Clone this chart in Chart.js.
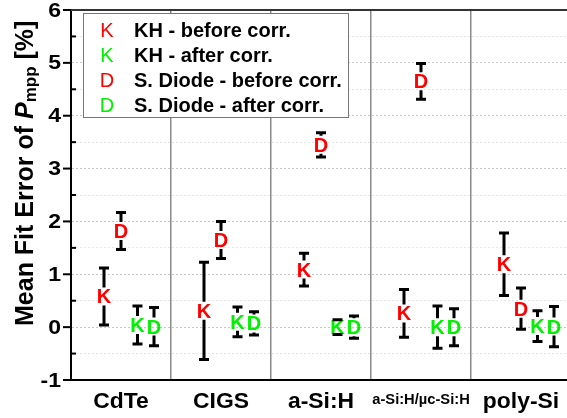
<!DOCTYPE html>
<html>
<head>
<meta charset="utf-8">
<script src="https://cdn.jsdelivr.net/npm/chart.js@4"></script>
<style>
  html, body { margin: 0; padding: 0; background: #fff; }
  #wrap { width: 567px; height: 418px; }
</style>
</head>
<body>
<div id="wrap"><canvas id="fitChart"></canvas></div>
<script>
// categories and series
const categories = ['CdTe', 'CIGS', 'a-Si:H', 'a-Si:H/µc-Si:H', 'poly-Si'];
const yTicks = [-1, 0, 1, 2, 3, 4, 5, 6];

const khBefore = [0.58, 0.31, 1.09, 0.26, 1.19];
const khBeforeErr = [0.54, 0.92, 0.31, 0.45, 0.59];
const sdBefore = [1.82, 1.65, 3.45, 4.65, 0.35];
const sdBeforeErr = [0.35, 0.35, 0.23, 0.34, 0.39];
const khAfter = [0.04, 0.10, 0.0, 0.0, 0.02];
const khAfterErr = [0.36, 0.28, 0.14, 0.40, 0.29];
const sdAfter = [0.01, 0.07, 0.0, 0.0, 0.01];
const sdAfterErr = [0.36, 0.22, 0.21, 0.35, 0.38];

const RED = '#ff0000';
const GREEN = '#00f000';
const FONT = "'Liberation Sans', Arial, sans-serif";

function series(label, letter, color, offset, vals, errs) {
  return {
    label: label,
    letter: letter,
    errors: errs,
    data: vals.map((v, i) => ({ x: i + offset, y: v })),
    pointRadius: 0,
    pointHoverRadius: 0,
    borderColor: color,
    backgroundColor: color,
    showLine: false
  };
}

const datasets = [
  series('KH - before corr.', 'K', RED, 0.33, khBefore, khBeforeErr),
  series('S. Diode - before corr.', 'D', RED, 0.50, sdBefore, sdBeforeErr),
  series('KH - after corr.', 'K', GREEN, 0.665, khAfter, khAfterErr),
  series('S. Diode - after corr.', 'D', GREEN, 0.83, sdAfter, sdAfterErr)
];
const legendOrder = [0, 2, 1, 3];

// stretched text, the original labels are a bit wider than Arial
function wideText(ctx, txt, x, y, sx) {
  ctx.save();
  ctx.translate(x, y);
  ctx.scale(sx, 1);
  ctx.fillText(txt, 0, 0);
  ctx.restore();
}

// error bars, letters, texts, legend
const decor = {
  id: 'decor',
  afterDatasetsDraw(chart) {
    const ctx = chart.ctx;
    const ys = chart.scales.y;
    chart.data.datasets.forEach((ds, di) => {
      const meta = chart.getDatasetMeta(di);
      meta.data.forEach((pt, i) => {
        const x = pt.x, y = pt.y;
        ctx.save();
        ctx.fillStyle = ds.borderColor;
        ctx.font = 'bold 20px ' + FONT;
        ctx.textAlign = 'center';
        ctx.textBaseline = 'alphabetic';
        ctx.fillText(ds.letter, x, y + 7);
        ctx.restore();

        const v = ds.data[i].y, e = ds.errors[i];
        const top = ys.getPixelForValue(v + e);
        const bot = ys.getPixelForValue(v - e);
        const gap = 9;
        ctx.save();
        ctx.strokeStyle = '#000';
        ctx.lineWidth = 3;
        ctx.beginPath();
        if (y - top > gap) { ctx.moveTo(x, top); ctx.lineTo(x, y - gap); }
        if (bot - y > gap) { ctx.moveTo(x, y + gap); ctx.lineTo(x, bot); }
        ctx.moveTo(x - 5, top); ctx.lineTo(x + 5, top);
        ctx.moveTo(x - 5, bot); ctx.lineTo(x + 5, bot);
        ctx.stroke();
        ctx.restore();
      });
    });
  },
  afterDraw(chart) {
    const ctx = chart.ctx;
    const a = chart.chartArea;
    const xs = chart.scales.x, ys = chart.scales.y;

    // top frame
    ctx.save();
    ctx.strokeStyle = '#333';
    ctx.lineWidth = 2;
    ctx.beginPath();
    ctx.moveTo(a.left - 1, a.top);
    ctx.lineTo(a.right, a.top);
    ctx.stroke();

    // y ticks
    ctx.strokeStyle = '#000';
    ctx.lineWidth = 2;
    for (let v = -1; v <= 6; v += 0.5) {
      const py = ys.getPixelForValue(v);
      ctx.beginPath();
      if (Number.isInteger(v)) { ctx.moveTo(a.left - 8, py); ctx.lineTo(a.left, py); }
      else { ctx.moveTo(a.left, py); ctx.lineTo(a.left + 5, py); }
      ctx.stroke();
    }

    // y tick labels
    ctx.fillStyle = '#000';
    ctx.font = 'bold 20px ' + FONT;
    ctx.textAlign = 'right';
    ctx.textBaseline = 'middle';
    yTicks.forEach(t => wideText(ctx, String(t), a.left - 10, ys.getPixelForValue(t) + 1, 1.15));

    // category labels
    ctx.textAlign = 'center';
    ctx.textBaseline = 'alphabetic';
    categories.forEach((c, i) => {
      const small = c.length > 8;
      ctx.font = 'bold ' + (small ? 14 : 22) + 'px ' + FONT;
      wideText(ctx, c, xs.getPixelForValue(i + 0.5), small ? 404 : 408, small ? 1.05 : 1.04);
    });

    // y title
    ctx.translate(33, 326);
    ctx.rotate(-Math.PI / 2);
    ctx.textAlign = 'left';
    let cx = 0;
    const part = (txt, font, dy) => {
      ctx.font = font;
      ctx.fillText(txt, cx, dy);
      cx += ctx.measureText(txt).width;
    };
    part('Mean Fit Error of ', 'bold 25px ' + FONT, 0);
    part('P', 'italic bold 25px ' + FONT, 0);
    part('mpp', 'bold 17px ' + FONT, 3);
    part(' [%]', 'bold 25px ' + FONT, 0);
    ctx.restore();

    // legend
    ctx.save();
    ctx.fillStyle = '#fff';
    ctx.fillRect(83, 13, 265, 105);
    ctx.strokeStyle = '#777';
    ctx.lineWidth = 1;
    ctx.strokeRect(83.5, 13.5, 265, 104);
    const rows = [29.5, 54.5, 80, 104.5];
    legendOrder.forEach((di, r) => {
      const ds = chart.data.datasets[di];
      ctx.textBaseline = 'alphabetic';
      ctx.textAlign = 'center';
      ctx.fillStyle = ds.borderColor;
      ctx.font = '20px ' + FONT;
      ctx.fillText(ds.letter, 107, rows[r] + 7);
      ctx.textAlign = 'left';
      ctx.fillStyle = '#000';
      ctx.font = 'bold 20px ' + FONT;
      ctx.fillText(ds.label, 134, rows[r] + 7);
    });
    ctx.restore();
  }
};

new Chart(document.getElementById('fitChart'), {
  type: 'scatter',
  data: { datasets: datasets },
  options: {
    responsive: true,
    maintainAspectRatio: false,
    animation: false,
    layout: { padding: { left: 71, top: 10, right: 0, bottom: 38 } },
    plugins: {
      legend: { display: false },
      tooltip: { enabled: false }
    },
    scales: {
      x: {
        type: 'linear',
        min: 0,
        max: 4.96,
        afterBuildTicks: axis => { axis.ticks = [1, 2, 3, 4].map(v => ({ value: v })); },
        ticks: { display: false },
        grid: { color: '#8a8a8a', lineWidth: 1.5, drawTicks: false },
        border: { color: '#000', width: 2 }
      },
      y: {
        min: -1,
        max: 6,
        ticks: { display: false, stepSize: 0.5 },
        grid: {
          drawTicks: false,
          color: c => Number.isInteger(c.tick.value) ? '#c8c8c8' : '#e6e6e6'
        },
        border: { color: '#000', width: 2, dash: [2, 2] }
      }
    }
  },
  plugins: [decor]
});
</script>
</body>
</html>
